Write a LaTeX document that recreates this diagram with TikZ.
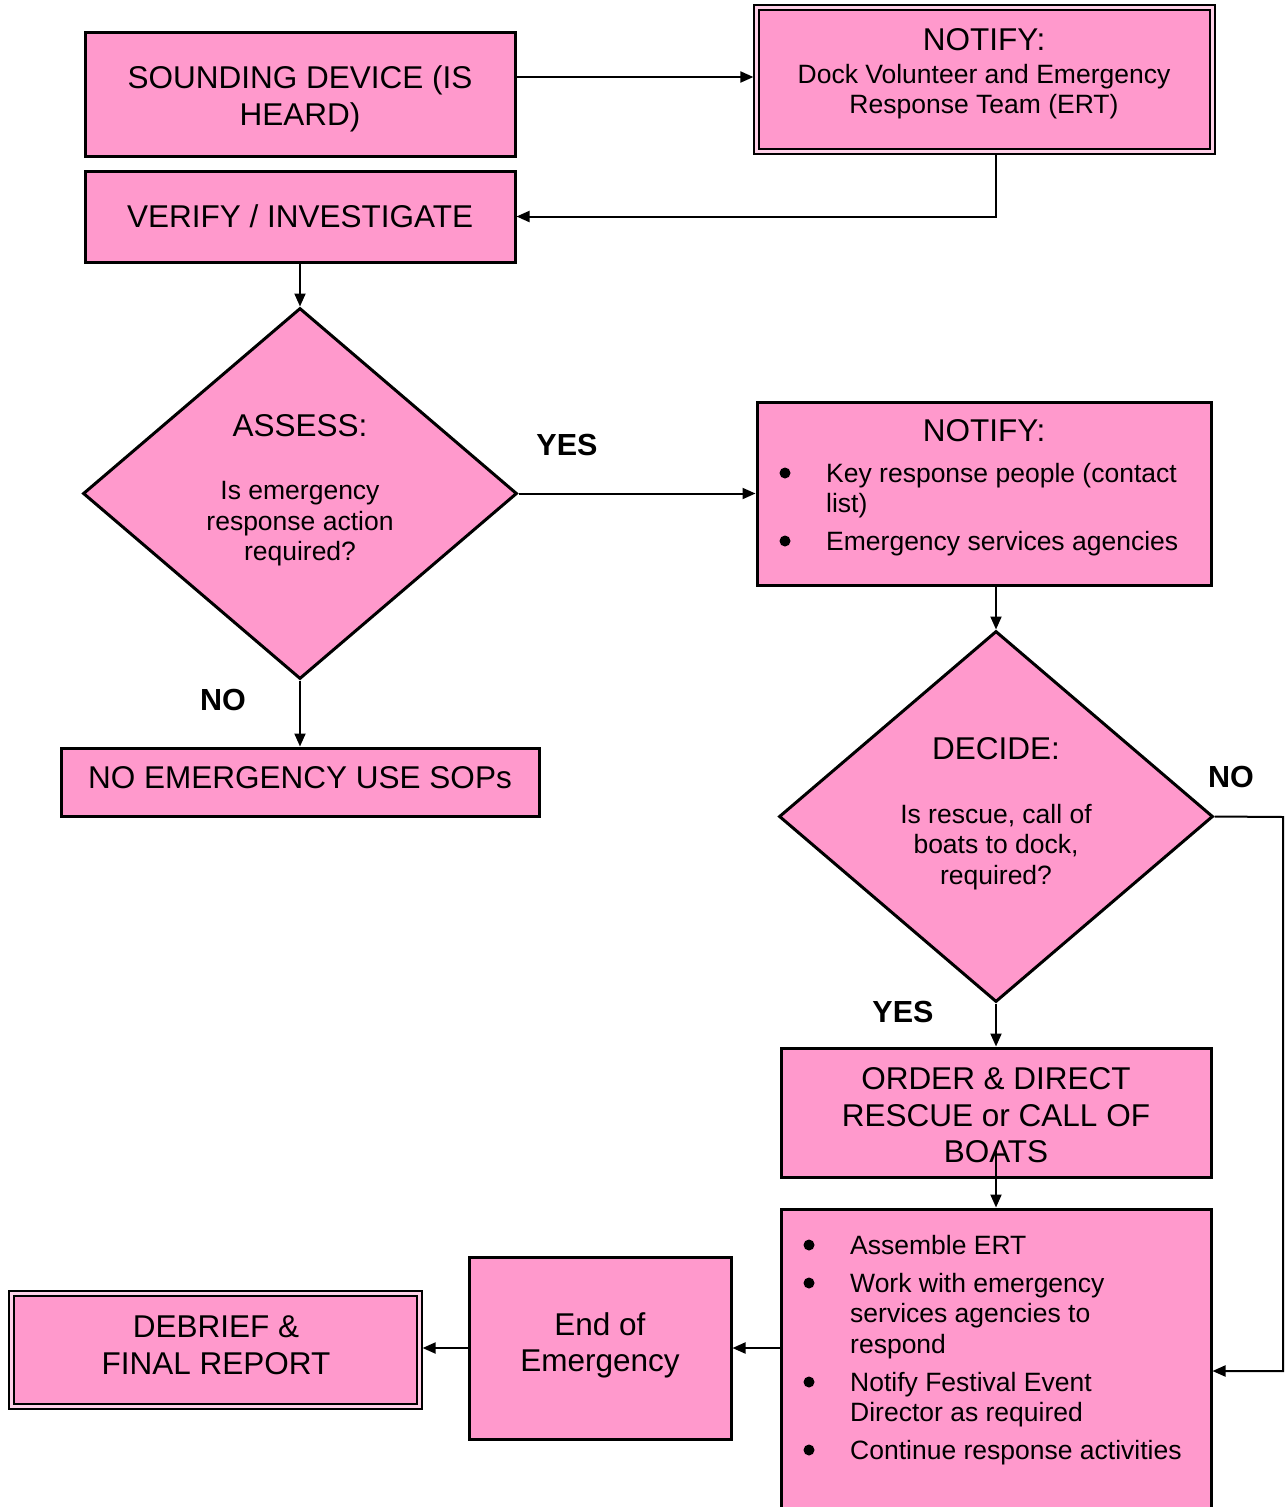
\documentclass[tikz,border=0pt]{standalone}
\usepackage{fontspec}
\setmainfont{Liberation Sans}
\usetikzlibrary{arrows.meta,shapes.geometric,calc}
\definecolor{pinkc}{HTML}{FF99CC}
\newcommand\fbig{\fontsize{31.5}{36.5}\selectfont}
\newcommand\fsml{\fontsize{26.5}{30.5}\selectfont}
\newcommand\flbl{\fontsize{30.5}{34}\selectfont\bfseries}
\tikzset{
  box/.style={draw, line width=3pt, fill=pinkc, inner sep=0pt, align=center, font=\fbig},
  dbox/.style={draw, line width=1.8pt, double=pinkc!45, double distance=2.6pt, fill=pinkc, inner sep=0pt, outer sep=3.1pt, align=center, font=\fbig},
  dia/.style={draw, diamond, line width=3pt, fill=pinkc, inner sep=0pt},
  conn/.style={line width=2pt, -{Triangle[length=13pt,width=11pt]}},
  lbl/.style={font=\flbl, inner sep=0pt},
  txt/.style={inner sep=0pt, align=center},
  itm/.style={inner sep=0pt, anchor=base west, font=\fsml},
  bul/.style={circle, fill=black, inner sep=0pt, minimum size=11pt},
}
\begin{document}
\begin{tikzpicture}[x=1pt,y=-1pt]
\useasboundingbox (0,0) rectangle (1286,1507);
% boxes
\node[box, minimum width=430pt, minimum height=124pt] (sound) at (300,94) {};
\node[txt, font=\fbig] (soundt) at (300,99) {SOUNDING DEVICE (IS\\HEARD)};
\node[dbox, minimum width=456pt, minimum height=144pt] (notify1) at (984.5,79.5) {};
\node[txt, font=\fbig] (n1t) at (984,40) {NOTIFY:};
\node[txt, font=\fsml] (n1b) at (984,91.5) {Dock Volunteer and Emergency\\Response Team (ERT)};
\node[box, minimum width=430pt, minimum height=91pt] (verify) at (300,216.5) {VERIFY / INVESTIGATE};
\node[dia, minimum width=434pt, minimum height=371pt] (assess) at (300,493.5) {};
\node[txt, font=\fbig] (at1) at (300,426) {ASSESS:};
\node[txt, font=\fsml] (at2) at (300,524) {Is emergency\\response action\\required?};
\node[box, minimum width=454pt, minimum height=183pt] (notify2) at (984,493.5) {};
\node[txt, font=\fbig] (n2t) at (984,431) {NOTIFY:};
\node[bul] (n2b1) at (785,473) {};
\node[itm] (n2i1) at (826,482) {Key response people (contact};
\node[itm] (n2i1b) at (826,512) {list)};
\node[bul] (n2b2) at (785,541) {};
\node[itm] (n2i2) at (826,550) {Emergency services agencies};
\node[dia, minimum width=434pt, minimum height=371pt] (decide) at (996,816.5) {};
\node[txt, font=\fbig] (dt1) at (996,749) {DECIDE:};
\node[txt, font=\fsml] (dt2) at (996,847) {Is rescue, call of\\boats to dock,\\required?};
\node[box, minimum width=478pt, minimum height=68pt] (noem) at (300,782) {};
\node[txt, font=\fbig] (noemt) at (300,778) {NO EMERGENCY USE SOPs};
\node[box, minimum width=430pt, minimum height=129pt] (order) at (996,1112.5) {};
\node[txt, font=\fbig] (ordert) at (996,1115.5) {ORDER \& DIRECT\\RESCUE or CALL OF\\BOATS};
\node[box, minimum width=430pt, minimum height=311pt] (acts) at (996,1364.5) {};
\node[bul] (ab1) at (809,1245) {};
\node[itm] (ai1) at (850,1254) {Assemble ERT};
\node[bul] (ab2) at (809,1283) {};
\node[itm] (ai2) at (850,1292) {Work with emergency};
\node[itm] (ai2b) at (850,1322) {services agencies to};
\node[itm] (ai2c) at (850,1353) {respond};
\node[bul] (ab3) at (809,1382) {};
\node[itm] (ai3) at (850,1391) {Notify Festival Event};
\node[itm] (ai3b) at (850,1421) {Director as required};
\node[bul] (ab4) at (809,1450) {};
\node[itm] (ai4) at (850,1459) {Continue response activities};
\node[box, minimum width=262pt, minimum height=182pt] (endem) at (600,1348) {};
\node[txt, font=\fbig] (endt) at (600,1345.5) {End of\\Emergency};
\node[dbox, minimum width=408pt, minimum height=113pt] (debrief) at (215.5,1350) {};
\node[txt, font=\fbig] (debt) at (216,1345) {DEBRIEF \&\\FINAL REPORT};
% labels
\node[lbl] (yes1) at (567,445) {YES};
\node[lbl] (no1) at (223,700) {NO};
\node[lbl] (no2) at (1231,777) {NO};
\node[lbl] (yes2) at (903,1012) {YES};
% connectors
\draw[conn] ([yshift=17pt]sound.east) -- ([yshift=17pt]sound.east -| notify1.west);
\draw[conn] ([xshift=11.5pt]notify1.south) |- (verify.east);
\draw[conn] (verify.south) -- (assess.north);
\draw[conn] (assess.east) -- (notify2.west);
\draw[conn] (decide.north |- notify2.south) -- (decide.north);
\draw[conn] (assess.south) -- (noem.north);
\coordinate (cr) at (1283,817);
\draw[conn] (decide.east) -- (cr) |- ([yshift=-6.5pt]acts.east);
\draw[conn] (decide.south) -- (order.north);
\draw[conn] ([yshift=28pt]order.south) -- (acts.north);
\draw[conn] (acts.west |- endem.east) -- (endem.east);
\draw[conn] (endem.west) -- (endem.west -| debrief.east);
\end{tikzpicture}
\end{document}
